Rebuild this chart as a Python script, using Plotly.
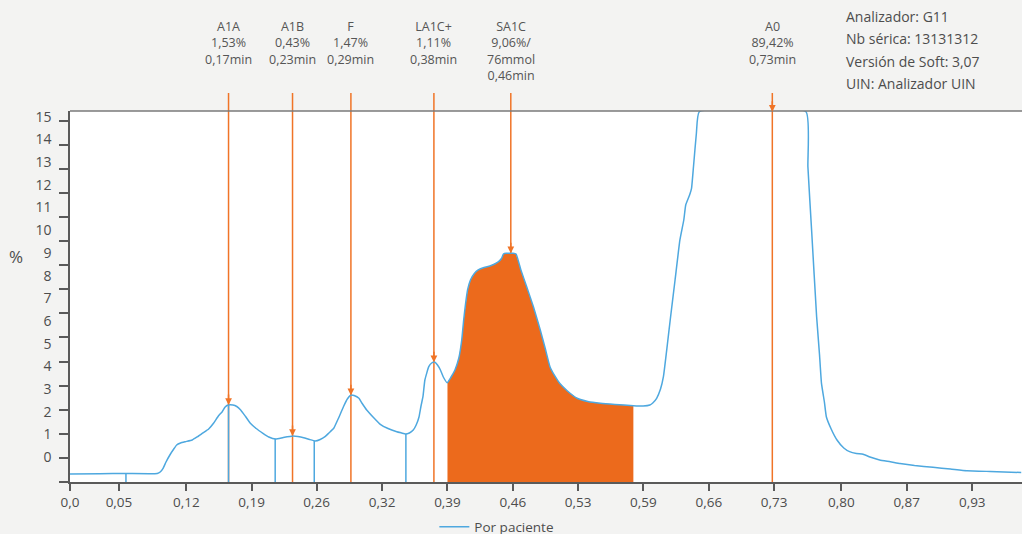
import numpy as np
import plotly.graph_objects as go

# ---------------- data ----------------
time_min = [0.000, 0.031, 0.057, 0.090, 0.093, 0.096, 0.099, 0.103, 0.107, 0.110,
            0.114, 0.119, 0.126, 0.131, 0.137, 0.143, 0.148, 0.153, 0.157, 0.160,
            0.163, 0.168, 0.172, 0.176, 0.181, 0.186, 0.192, 0.199, 0.205, 0.212,
            0.220, 0.230, 0.235, 0.241, 0.247, 0.253, 0.258, 0.263, 0.267, 0.272,
            0.277, 0.282, 0.286, 0.290, 0.293, 0.298, 0.301, 0.306, 0.313, 0.320,
            0.328, 0.337, 0.342, 0.346, 0.350, 0.354, 0.357, 0.360, 0.362, 0.364,
            0.366, 0.370, 0.373, 0.376, 0.379, 0.382, 0.385, 0.389, 0.393, 0.397,
            0.401, 0.404, 0.406, 0.408, 0.410, 0.413, 0.417, 0.421, 0.427, 0.433,
            0.438, 0.442, 0.445, 0.447, 0.450, 0.454, 0.457, 0.460, 0.465, 0.471,
            0.478, 0.485, 0.490, 0.495, 0.500, 0.505, 0.513, 0.523, 0.534, 0.547,
            0.562, 0.581, 0.591, 0.598, 0.601, 0.605, 0.609, 0.612, 0.616, 0.619,
            0.624, 0.629, 0.633, 0.635, 0.639, 0.641, 0.643, 0.646, 0.649, 0.759,
            0.761, 0.765, 0.770, 0.773, 0.775, 0.778, 0.780, 0.785, 0.791, 0.798,
            0.804, 0.811, 0.818, 0.825, 0.835, 0.846, 0.856, 0.871, 0.890, 0.908,
            0.925, 0.949, 0.981]
signal_pct = [-0.735, -0.722, -0.713, -0.713, -0.647, -0.484, -0.207, 0.101, 0.365, 0.542,
              0.630, 0.687, 0.762, 0.894, 1.070, 1.246, 1.497, 1.819, 2.008, 2.215,
              2.303, 2.303, 2.237, 2.083, 1.797, 1.497, 1.268, 1.057, 0.894, 0.806,
              0.872, 0.938, 0.916, 0.863, 0.784, 0.718, 0.784, 0.907, 1.070, 1.277,
              1.731, 2.228, 2.567, 2.743, 2.721, 2.598, 2.391, 2.083, 1.753, 1.453,
              1.268, 1.127, 1.070, 1.026, 1.070, 1.202, 1.422, 1.788, 2.259, 2.668,
              3.404, 3.989, 4.152, 4.196, 4.064, 3.844, 3.536, 3.285, 3.536, 3.844,
              4.373, 5.165, 6.046, 6.781, 7.367, 7.807, 8.093, 8.248, 8.358, 8.424,
              8.512, 8.613, 8.754, 8.952, 8.983, 8.983, 8.983, 8.952, 8.248, 7.512,
              6.618, 5.605, 4.813, 3.989, 3.580, 3.259, 2.919, 2.598, 2.457, 2.378,
              2.325, 2.272, 2.259, 2.303, 2.391, 2.598, 3.007, 3.549, 4.945, 6.046,
              7.807, 9.569, 10.449, 11.110, 11.550, 11.845, 12.796, 14.267, 15.218, 15.218,
              12.796, 9.863, 6.191, 4.505, 3.258, 2.435, 1.788, 1.246, 0.762, 0.410,
              0.247, 0.167, 0.132, 0.013, -0.119, -0.194, -0.273, -0.361, -0.440, -0.515,
              -0.590, -0.625, -0.669]

boundary_min = [0.0577, 0.1635, 0.2116, 0.2519, 0.3464]   # blue drop lines
fill_start_min = 0.3893                                    # SA1C integration area
fill_end_min = 0.5810

peak_names = ["A1A", "A1B", "F", "LA1C+", "SA1C", "A0"]
peak_pct = ["1,53%", "0,43%", "1,47%", "1,11%", "9,06%/<br>76mmol", "89,42%"]
peak_rt = ["0,17min", "0,23min", "0,29min", "0,38min", "0,46min", "0,73min"]
peak_pos_min = [0.1635, 0.2295, 0.2897, 0.3753, 0.4546, 0.7243]

x_tick_vals = [0.0, 0.0505, 0.1201, 0.1873, 0.2543, 0.3219, 0.3893, 0.4567,
               0.5240, 0.5914, 0.6588, 0.7261, 0.7955, 0.8629, 0.9305]
x_tick_text = ["0,0", "0,05", "0,12", "0,19", "0,26", "0,32", "0,39", "0,46",
               "0,53", "0,59", "0,66", "0,73", "0,80", "0,87", "0,93"]
y_tick_vals = list(range(0, 16))
y_tick_text = [str(v) for v in y_tick_vals]

info_lines = ["Analizador: G11", "Nb sérica: 13131312",
              "Versión de Soft: 3,07", "UIN: Analizador UIN"]

# ---------------- styling / layout ----------------
W, H = 1022, 534
ML, MR, MT, MB = 70, 0, 111, 52
PLOT_W = W - ML - MR
PLOT_H = H - MT - MB
X_RANGE = [0.0, 0.9818]
Y_RANGE = [-1.088, 15.249]

BLUE = "#4ea8df"
ORANGE = "#ec6a1c"
ORANGE_LINE = "#f07427"
TEXT = "#4d4d4d"
AXIS = "#5a5a5a"
FONT = "Open Sans"


def py2paper(py):
    return (H - MB - py) / PLOT_H


def px2paper(px):
    return (px - ML) / PLOT_W


t = np.array(time_min)
s = np.array(signal_pct)

fig = go.Figure()

# orange integration area
mask = (t > fill_start_min) & (t < fill_end_min)
fx = np.concatenate([[fill_start_min], t[mask], [fill_end_min]])
fy = np.interp(fx, t, s)
poly_x = np.concatenate([[fill_start_min], fx, [fill_end_min, fill_start_min]])
poly_y = np.concatenate([[Y_RANGE[0]], fy, [Y_RANGE[0], Y_RANGE[0]]])
fig.add_trace(go.Scatter(x=poly_x, y=poly_y, mode="lines", fill="toself",
                         fillcolor=ORANGE, line=dict(width=0, color=ORANGE),
                         showlegend=False, hoverinfo="skip"))

# blue drop lines at segment boundaries
dx, dy = [], []
for b in boundary_min:
    dx += [b, b, None]
    dy += [Y_RANGE[0], float(np.interp(b, t, s)), None]
fig.add_trace(go.Scatter(x=dx, y=dy, mode="lines", line=dict(color=BLUE, width=1.5),
                         showlegend=False, hoverinfo="skip"))

# chromatogram
fig.add_trace(go.Scatter(x=time_min, y=signal_pct, mode="lines", name="Por paciente",
                         line=dict(color=BLUE, width=1.5, shape="spline", smoothing=0.4)))

# dummy trace for the tick-mark axis
fig.add_trace(go.Scatter(x=[None], y=[None], yaxis="y2", showlegend=False,
                         hoverinfo="skip"))

shapes = []
annotations = []
# top border of plot area
shapes.append(dict(type="line", xref="paper", yref="paper", x0=0, x1=1, y0=1, y1=1,
                   line=dict(color="#7a7a7a", width=1.5), layer="above"))
for name, pct, rt, pos in zip(peak_names, peak_pct, peak_rt, peak_pos_min):
    shapes.append(dict(type="line", xref="x", yref="paper", x0=pos, x1=pos,
                       y0=0, y1=py2paper(93), line=dict(color=ORANGE_LINE, width=1.5),
                       layer="below"))
    annotations.append(dict(x=pos, y=float(np.interp(pos, t, s)), xref="x", yref="y",
                            text="", showarrow=True, ax=0, ay=-12, arrowhead=2,
                            arrowsize=0.9, arrowwidth=1.5, arrowcolor=ORANGE_LINE))
    annotations.append(dict(x=pos, xref="x", y=py2paper(16), yref="paper",
                            yanchor="top", xanchor="center", showarrow=False,
                            text=f"{name}<br>{pct}<br>{rt}", align="center",
                            font=dict(family=FONT, size=12.5, color="#555555")))

for i, line in enumerate(info_lines):
    annotations.append(dict(x=px2paper(844), xref="paper", xanchor="left",
                            y=py2paper(16 + 22.6 * i), yref="paper", yanchor="middle",
                            text=line, showarrow=False,
                            font=dict(family=FONT, size=14, color=TEXT)))

annotations.append(dict(x=px2paper(16), xref="paper", xanchor="center",
                        y=py2paper(256), yref="paper", yanchor="middle",
                        text="%", showarrow=False,
                        font=dict(family=FONT, size=17, color=TEXT)))

fig.update_layout(
    width=W, height=H,
    margin=dict(l=ML, r=MR, t=MT, b=MB, autoexpand=False),
    paper_bgcolor="#f3f3f2", plot_bgcolor="#ffffff",
    font=dict(family=FONT, color=TEXT, size=13.5),
    showlegend=True,
    legend=dict(orientation="h", xref="container", yref="container",
                x=0.425, xanchor="left", y=0.042, yanchor="top",
                font=dict(family=FONT, size=13.5, color=TEXT),
                bgcolor="rgba(0,0,0,0)"),
    xaxis=dict(range=X_RANGE, tickvals=x_tick_vals, ticktext=x_tick_text,
               showgrid=False, zeroline=False, showline=True, linecolor=AXIS,
               linewidth=1.5, ticks="outside", ticklen=7, tickwidth=1.5,
               tickcolor=AXIS, tickfont=dict(size=13.5, color=TEXT)),
    yaxis=dict(range=Y_RANGE, tickvals=y_tick_vals, ticktext=y_tick_text,
               showgrid=False, zeroline=False, showline=True, linecolor=AXIS,
               linewidth=1.5, ticks="", ticklabelstandoff=14,
               tickfont=dict(size=14, color=TEXT)),
    yaxis2=dict(overlaying="y", side="left", range=Y_RANGE,
                tickvals=list(np.linspace(Y_RANGE[0], 14.822, 16)),
                showticklabels=False, ticks="outside", ticklen=10, tickwidth=1.5,
                tickcolor=AXIS, showgrid=False, zeroline=False, showline=False),
    shapes=shapes,
    annotations=annotations,
)

fig.write_html("out.html", config={"displayModeBar": False},
               post_script="document.body.style.margin='0px';")
